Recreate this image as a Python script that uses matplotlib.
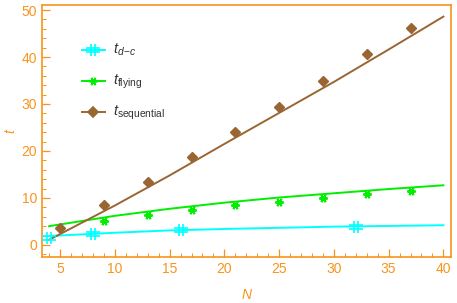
#!/usr/bin/env python3
"""Timing of the three schemes vs N (fits and measured points)."""

import matplotlib

matplotlib.use("Agg")
import matplotlib.pyplot as plt
from matplotlib.path import Path

ORANGE = "#f7941d"
CYAN = "#00ffff"
GREEN = "#00ee00"
BROWN = "#996633"

# measured points
N_DC = [4, 8, 16, 32]
T_DC = [1.5, 2.3, 3.2, 3.9]
N_FLY = [9, 13, 17, 21, 25, 29, 33, 37]
T_FLY = [5.2, 6.4, 7.4, 8.4, 9.2, 9.9, 10.8, 11.4]
N_SEQ = [5, 9, 13, 17, 21, 25, 29, 33, 37]
T_SEQ = [3.7, 8.4, 13.4, 18.7, 24.0, 29.4, 35.0, 40.6, 46.2]

# fitted curves
N_FIT = [4, 10, 15, 20, 25, 30, 35, 40]
FIT_DC = [1.9, 2.6, 3.1, 3.4, 3.65, 3.9, 4.05, 4.2]
FIT_FLY = [4.0, 6.2, 7.7, 9.0, 10.1, 11.0, 11.9, 12.7]
FIT_SEQ = [1.1, 8.4, 14.8, 21.5, 28.1, 34.7, 41.6, 48.6]

X_TICKS = [5, 10, 15, 20, 25, 30, 35, 40]
Y_TICKS = [0, 10, 20, 30, 40, 50]

# "#" shaped marker
HASH = Path(
    [(-0.3, -0.9), (-0.3, 0.9), (0.3, -0.9), (0.3, 0.9),
     (-1.0, -0.35), (1.0, -0.35), (-1.0, 0.35), (1.0, 0.35)],
    [Path.MOVETO, Path.LINETO] * 4,
)

plt.rcParams["font.family"] = ["Liberation Sans", "DejaVu Sans"]
plt.rcParams["mathtext.fontset"] = "custom"
plt.rcParams["mathtext.rm"] = "Liberation Sans"
plt.rcParams["mathtext.it"] = "Liberation Sans:italic"

fig = plt.figure(figsize=(4.57, 3.03), dpi=100)
ax = fig.add_axes([0.092, 0.152, 0.895, 0.832])

ax.plot(N_FIT, FIT_DC, color=CYAN, lw=1.4, zorder=2)
ax.plot(N_FIT, FIT_FLY, color=GREEN, lw=1.4, zorder=2)
ax.plot(N_FIT, FIT_SEQ, color=BROWN, lw=1.4, zorder=2)

ax.plot(N_DC, T_DC, ls="none", marker=HASH, ms=9.5, mew=1.2, color=CYAN, zorder=3)
ax.plot(N_FLY, T_FLY, ls="none", marker=(6, 2, 90), ms=6, mew=1.4, color=GREEN, zorder=3)
ax.plot(N_SEQ, T_SEQ, ls="none", marker="D", ms=5.5, color=BROWN, zorder=3)

# legend drawn by hand, Mathematica style
legend = [
    (CYAN, HASH, 9.5, r"$t_{d\!-\!c}$", 41.5),
    (GREEN, (6, 2, 90), 6, r"$t_{\mathrm{flying}}$", 34.8),
    (BROWN, "D", 5.5, r"$t_{\mathrm{sequential}}$", 28.2),
]
for color, marker, ms, label, y in legend:
    ax.plot([7.0, 9.1], [y, y], color=color, lw=1.4)
    ax.plot([8.0], [y], marker=marker, ms=ms, mew=1.2, color=color, ls="none")
    ax.text(9.8, y, label, fontsize=10.5, va="center", color="#333333")

ax.set_xlim(3.35, 40.7)
ax.set_ylim(-2.55, 51.1)
ax.set_xticks(X_TICKS)
ax.set_yticks(Y_TICKS)
ax.set_xticks(range(4, 41), minor=True)
ax.set_yticks(range(-2, 51, 2), minor=True)

for side in ax.spines.values():
    side.set_color(ORANGE)
    side.set_linewidth(1.2)
ax.tick_params(which="both", direction="in", colors=ORANGE, labelcolor=ORANGE,
               labelsize=10, top=False, right=False)
ax.tick_params(which="major", length=6, width=0.9)
ax.tick_params(which="minor", length=3, width=0.7)

ax.set_xlabel("N", color=ORANGE, style="italic", fontsize=10)
ax.set_ylabel("t", color=ORANGE, style="italic", fontsize=10)
ax.xaxis.set_label_coords(0.5, -0.125)
ax.yaxis.set_label_coords(-0.06, 0.5)

fig.savefig("out.png", dpi=100)
